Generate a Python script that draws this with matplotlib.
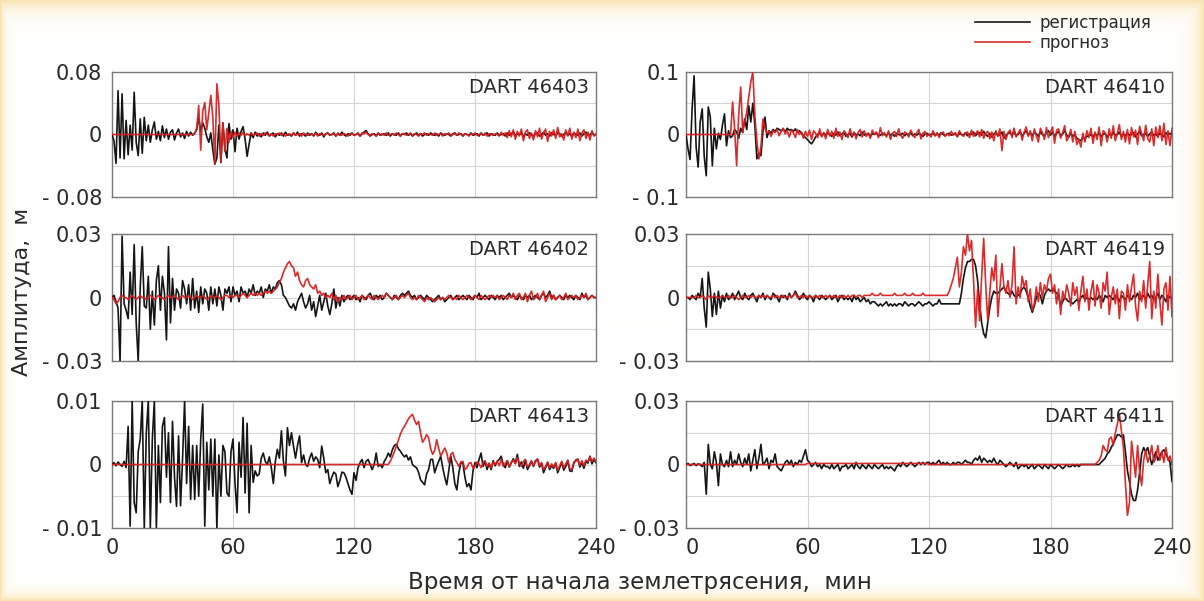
import numpy as np
import matplotlib
matplotlib.use("Agg")
import matplotlib.pyplot as plt

# ---------------- data (values in mm, sampled every minute 0..240) ----------------
minutes = list(range(0, 241))

obs_46403 = [0, -8, -37, 56, -30, 52, -31, 18, -26, 12,
             -20, 54, -10, -27, 20, -24, 22, -8, 12, -10,
             6, 16, -6, 4, -8, 11, -4, 7, -6, 3,
             6, -7, 2, 7, -3, 2, -5, 4, -2, 3,
             -1, 2, 6, 22, 4, 15, 8, -3, -10, 2,
             -20, -38, -30, 12, -36, 15, -18, -30, 14, -6,
             6, -22, 8, -6, 4, 10, -6, -28, -12, 2,
             -4, 3, -2, 1, -3, 2, -1, 3, -2, 0,
             2, -3, 1, -1, 2, -2, 3, -1, 0, -2,
             2, -1, 3, -2, 1, 0, -2, 2, -1, 1,
             -2, 3, 0, -1, 2, -3, 1, 2, -1, 0,
             2, -2, 1, -1, 3, 0, -2, 1, -1, 2,
             -1, 0, 2, -2, 1, 3, 5, 1, -2, 0,
             1, -2, 2, -1, 0, 1, -1, 2, -2, 1,
             0, -1, 2, -2, 1, 0, 2, -1, 1, -2,
             0, 2, -1, 1, -2, 0, 1, -1, 2, 0,
             -1, 1, -2, 2, 0, -1, 1, 0, -2, 1,
             2, -1, 0, 1, -2, 1, 0, -1, 2, -1,
             0, 1, -2, 2, -1, 0, 2, -2, 1, 0,
             -1, 2, -1, 0, 1, -2, 2, -1, 1, 3,
             -2, 1, 0, 2, -3, 1, -1, 2, 0, -2,
             1, 2, -2, 0, 3, -1, 1, -2, 2, 0,
             -1, 2, 1, -2, 0, 3, -1, 1, -2, 2,
             0, -1, 2, -2, 1, 3, -1, 0, 2, -1,
             0]
fc_46403 = [0, 0, 0, 0, 0, 0, 0, 0, 0, 0,
            0, 0, 0, 0, 0, 0, 0, 0, 0, 0,
            0, 0, 0, 0, 0, 0, 0, 0, 0, 0,
            0, 0, 0, 0, 0, 0, 0, 0, 0, 0,
            0, 1, 8, 37, -20, 30, 41, 6, 28, 50,
            22, -37, 65, 38, -35, 15, -22, 8, -10, 4,
            -4, 3, -2, 2, -1, 3, -2, 1, -1, 2,
            -1, 0, 2, -2, 1, -1, 2, 0, -1, 1,
            -2, 1, 0, 2, -1, 1, -2, 0, 1, -1,
            2, -1, 0, 1, -2, 2, 0, -1, 1, 0,
            -1, 2, -2, 1, 0, -1, 1, 2, -1, 0,
            1, -2, 2, 0, -1, 1, 0, -2, 1, 1,
            -1, 0, 1, -2, 2, 1, 3, 0, -1, 1,
            0, -2, 1, 0, 1, -1, 2, -1, 0, 1,
            -1, 2, 0, -2, 1, 1, -1, 0, 2, -1,
            1, 0, -2, 1, 0, 2, -1, 1, 0, -1,
            2, -1, 0, 1, -2, 1, 0, 2, -1, 0,
            1, -1, 2, 0, -1, 1, 0, -2, 1, 0,
            2, -1, 0, 1, -1, 2, -2, 1, 0, -1,
            1, 0, -2, 3, -1, 2, -4, 5, -3, 6,
            -6, 4, -2, 7, -8, 3, 6, -5, 2, -7,
            5, -3, 8, -6, 2, 7, -9, 4, -2, 6,
            -5, 9, -3, 1, -7, 6, -2, 8, -6, 3,
            -4, 7, -8, 2, 6, -5, 3, -7, 5, -2,
            1]

obs_46410 = [0, -23, -40, 40, 94, -20, -52, 20, 41, -35,
             -66, 44, 28, -50, 10, -23, 2, -8, 15, 33,
             -18, 6, -5, -2, 8, 4, -6, 10, 3, 25,
             8, 46, 20, 50, 15, -39, -30, -34, 5, 28,
             -5, 6, 2, 8, 5, 10, 8, 6, 9, 4,
             10, 7, 8, 5, 9, 3, 6, 2, -2, -5,
             -8, -12, -15, -10, -4, 0, 3, -2, 2, -1,
             3, 0, -3, 2, -1, 4, -2, 1, 3, -3,
             0, 2, -4, 3, -1, 1, -2, 4, -1, 0,
             2, -3, 1, 0, 3, -2, -1, 2, 0, -2,
             3, -1, 1, -3, 2, 0, -1, 2, -2, 1,
             0, 3, -2, 1, -1, 2, 0, -3, 1, 2,
             -1, 0, 2, -2, 1, -1, 3, 0, -2, 1,
             2, -1, 0, 1, -3, 2, 0, -1, 3, -2,
             1, 0, 4, -2, 2, 3, -1, 5, 0, -3,
             2, -4, 1, 3, -2, 0, 4, -6, -2, 2,
             3, -1, 5, -2, 0, 4, -3, 2, 6, -1,
             3, -2, 4, 1, -3, 5, 0, -2, 3, 6,
             -1, 4, -3, 2, 5, -2, 1, 6, -1, -4,
             2, -3, 0, -6, -8, -10, -4, -7, -3, -2,
             0, -4, 1, -2, 3, -3, 0, 2, -5, 1,
             -2, 3, -1, 0, 4, -3, 1, -2, 2, -1,
             0, 3, -4, 1, 5, -2, 0, 2, -3, 1,
             4, -2, 1, -3, 2, 0, -4, 3, -1, 2,
             0]
fc_46410 = [0, 0, 0, 0, 0, 0, 0, 0, 0, 0,
            0, 0, 0, 0, 0, 0, 0, 0, 0, 0,
            0, 0, 0, 52, 10, -50, 30, 76, 5, 20,
            36, 60, 84, 100, 30, -10, -39, -20, 25, 10,
            2, 5, -3, 6, 3, 8, -2, 5, 10, 1,
            6, -4, 7, 3, -5, 8, 0, 4, -6, 5,
            -3, 7, -8, 6, 2, -5, 9, -4, 3, -7,
            8, -2, 5, -6, 10, -3, 4, -8, 6, 2,
            -5, 9, -2, 4, -7, 3, 8, -4, 6, -3,
            2, -6, 7, 0, 4, -5, 11, -2, 3, -4,
            6, -8, 2, 5, -3, 9, -1, -6, 4, 2,
            -4, 7, 0, -5, 3, 8, -7, 2, 5, -3,
            1, -4, 6, -2, 3, -5, 2, 4, -3, 1,
            -2, 5, -1, 3, -4, 6, 0, -3, 2, 4,
            -5, 7, -3, 1, 6, -4, 8, -6, 2, 5,
            -7, 4, -10, 6, -3, 9, -26, 5, -8, 3,
            7, -5, 10, -4, 2, 8, -9, 4, 12, -3,
            6, -10, 9, -2, -12, 10, 3, -8, 11, -5,
            4, 12, -14, 7, 9, -6, 3, 14, -10, -4,
            8, -12, 5, -16, -8, -20, 2, -12, 6, -5,
            10, -14, 4, -8, 12, -18, 6, 3, -12, 9,
            -6, 14, -10, 2, 16, -8, 5, -12, 8, -15,
            11, -4, 7, -16, 13, 2, -10, 15, -6, -12,
            9, -18, 12, -5, 14, -10, 18, -16, 6, -18,
            10]

obs_46402 = [0, 1, -2, -5, -30, 29, -3, -6, -10, 12,
             -8, 25, -12, -30, 5, 24, -4, -5, 10, -15,
             3, -13, 8, 15, -6, 10, 2, -20, 24, -12,
             9, -6, 4, 2, -5, 8, 4, -3, 6, -6,
             9, -5, 3, -7, 5, -3, 4, 2, -6, 5,
             -3, 4, -4, 5, 1, -6, 4, 2, 5, -2,
             5, 1, 3, -2, 5, 2, 3, 0, 4, 2,
             6, 1, 3, 2, 5, 0, 4, 3, 6, 2,
             5, 4, 7, 8, 6, 1, 0, -2, -4, -5,
             -3, -6, -2, 0, 2, -2, -5, -3, 1, -6,
             -2, -9, -4, 1, -6, -2, 2, -4, -8, -3,
             4, -5, 0, -4, 1, -2, 0, 1, -1, 0,
             1, -1, 0, -2, 1, 0, -1, 1, 2, 0,
             -1, 1, 0, 1, -1, 0, 2, 1, 0, -1,
             1, 0, -1, 1, 2, 1, 2, 3, 1, 0,
             1, -1, 0, 1, 0, -1, 1, 0, -1, -2,
             -1, 0, 1, -1, 0, -2, -1, 0, 1, -1,
             0, 1, -1, 0, 1, 0, -1, 1, 0, -1,
             1, 0, 2, -1, 0, 1, 0, -1, 1, 0,
             -1, 1, 0, 1, -1, 0, 1, 2, 0, 1,
             0, -1, 1, 0, -1, 1, 0, 1, -1, 0,
             1, 0, -1, 1, 2, 0, 1, 3, 0, 1,
             -1, 0, 1, 0, -1, 1, 0, 1, 0, -1,
             1, 0, -1, 2, 0, 1, -1, 0, 1, 0,
             0]
fc_46402 = [0, -1, -3, -2, 0, 1, 0, 0, -1, 0,
            1, 0, -1, 0, 1, 0, 0, -1, 0, 1,
            0, -1, 0, 1, 0, 0, -1, 0, 1, 0,
            0, 1, 0, -1, 0, 1, 0, 0, 1, 0,
            -1, 0, 1, 0, 0, 1, 0, -1, 0, 1,
            0, 0, 1, 0, -1, 0, 1, 1, 0, 1,
            0, 1, 1, 0, 1, 2, 1, 0, 1, 2,
            1, 2, 1, 2, 1, 2, 3, 2, 3, 2,
            3, 4, 5, 7, 9, 12, 14, 16, 17, 15,
            14, 10, 12, 8, 6, 5, 8, 9, 6, 5,
            4, 6, 2, 3, 1, 2, 0, 1, 0, 2,
            -1, 1, -2, 0, -1, 1, -1, 0, 1, -1,
            0, 1, -1, 0, 1, -1, 0, 1, 0, -1,
            1, 0, -1, 0, 1, 0, 2, 1, 0, -1,
            0, 1, -1, 0, 1, 0, 1, 2, 0, -1,
            0, -1, 1, 0, -1, -2, 0, -1, 0, -1,
            -2, -1, 0, -1, 0, -1, 0, 1, 0, -1,
            0, -1, 1, 0, -1, 0, 1, 0, -1, 0,
            1, 0, -1, 1, 0, -1, 0, 1, 0, 1,
            0, 1, -1, 0, 1, 0, -1, 1, 0, 2,
            -1, 1, 2, -1, 0, 2, -2, 1, 3, -1,
            0, 2, -1, 1, 3, -2, 0, 2, -1, 1,
            -1, 0, 1, -1, 0, 2, -1, 0, 1, 0,
            1, -1, 0, 1, 0, 2, -1, 0, 1, 0,
            0]

obs_46419 = [0, 0, -1, 1, 0, -1, 2, 0, 9, -5,
             -14, 12, 4, -9, 2, -8, 3, -5, 1, -2,
             2, -1, 0, 2, -1, 1, 3, 0, -1, 2,
             0, -1, 1, 2, 0, -2, 1, 0, 2, -1,
             1, 0, -1, 2, 1, 0, -2, 1, 0, 1,
             -1, 2, 0, 1, 3, 1, -1, 0, 2, 0,
             -1, 1, 0, -2, 1, 0, -1, 1, 0, -1,
             0, 1, -1, 0, 1, -2, 0, 1, -1, 0,
             -1, 0, -2, 1, -1, 0, -2, -1, 0, -2,
             -1, -3, -2, -2, -3, -4, -3, -4, -3, -2,
             -4, -3, -4, -3, -4, -3, -3, -4, -2, -3,
             -4, -3, -3, -4, -3, -2, -3, -4, -3, -3,
             -2, -3, -4, -3, -3, -1, -3, -3, -3, -3,
             -3, -3, -3, -3, -3, -3, 2, 9, 14, 17,
             17, 18, 18, 15, 8, -3, -12, -17, -19, -12,
             -5, 0, 3, 2, 2, 3, 4, 5, 3, 2,
             1, 3, 1, 0, 1, 2, 4, 5, 3, 0,
             -4, -7, -4, 0, 2, 1, -3, 1, 3, 4,
             3, 4, 3, 2, 1, -4, -2, 0, -1, -2,
             -2, -3, -2, -1, -2, 0, 1, -1, 0, -1,
             0, -1, 0, -1, 1, 0, -2, 1, 0, 1,
             0, -1, 1, 0, -2, 1, 0, -1, 1, 0,
             -1, 1, 0, 2, -1, 0, 1, -1, 2, 0,
             1, -1, 0, 2, -1, 1, 0, -2, 1, 0,
             0]
fc_46419 = [0, 0, 0, 0, 0, 1, 0, 0, 1, 0,
            -1, 1, 0, 0, 1, 0, 0, 0, 1, 0,
            0, 1, 0, 0, 1, 0, -1, 0, 1, 0,
            0, 1, 0, 1, 0, 0, 1, 0, 1, 0,
            1, 0, 0, 1, 0, 1, 0, 0, 1, 0,
            0, 1, 0, 1, 2, 0, 0, 1, 0, 1,
            0, 1, 0, 0, 1, 0, 1, 0, 0, 1,
            0, 1, 0, 1, 0, 0, 1, 0, 1, 0,
            1, 0, 1, 1, 0, 1, 1, 0, 1, 1,
            1, 1, 2, 1, 1, 1, 2, 1, 1, 1,
            1, 1, 1, 2, 1, 1, 1, 1, 2, 1,
            1, 1, 2, 1, 1, 1, 1, 2, 1, 1,
            1, 1, 1, 1, 1, 1, 1, 1, 1, 1,
            3, 6, 9, 14, 19, 5, 12, 24, 20, 30,
            22, 27, 8, -14, 4, -11, 10, 28, 6, -11,
            2, 14, 8, 20, -9, 4, 16, 5, 2, 8,
            0, 6, 24, -3, 5, 0, 10, 5, 8, -2,
            4, -6, -3, 5, -2, 7, 0, 6, 3, 9,
            11, 2, 6, -3, 4, -8, 3, -1, 6, 2,
            -4, 7, 1, 5, -6, 3, 10, -2, 4, -6,
            3, 8, -4, 6, 2, -5, 7, 3, 12, -8,
            0, 5, -3, 4, -10, 3, 2, -6, 6, -2,
            5, 11, -4, -11, 3, -2, 8, -5, 6, 17,
            -10, 3, -5, 11, -2, -13, 4, 7, -6, 10,
            -9]

obs_46413 = [0, 0.3, -0.2, 0.4, 0, -0.3, 0.5, -0.5, 6, -9.7,
             10, -6, -7.6, 2, 4, 10, -10, 5, 10, -10,
             4, 10, -10, 3, -6, 6, 7.4, -2, 5, -6,
             6.8, -2, -6.6, 4.5, -6.5, 1, 10, -3, 6, -5.5,
             3, -5.5, 3, -5, 4, 9.5, -9.7, 3.5, -4, 4,
             -5, 4, -10, 1.5, -5, 3, 2, -4.5, -5, 2,
             4, -3, -7.6, 3.5, -2, 7.4, -4.5, 6.5, -7.6, 3,
             -2.8, -1, -1.8, -1.5, 1, 1.8, 0.5, 0, 1.2, -0.5,
             -3, 0.5, 2.4, 1, 5.3, 0.5, -1.8, 5.8, 3, 5,
             2.9, 1, 3, 4.5, 0.3, 1.5, 0, -0.3, 1, 1.8,
             0.5, 1.2, 0.8, -0.5, 2.9, 1, -1.3, -0.8, -3, -2,
             -1.2, -1.5, -3.5, -2.5, -1.2, -1.3, -2, -3, -4, -4.7,
             -1.3, -2.5, -0.5, 0.3, 0.8, -0.5, 0.5, 0.8, 0, -0.8,
             0, 1.8, -0.3, 0, -0.5, 0.5, 1, 1.8, 1.2, 2.3,
             3, 3.2, 2.5, 2.1, 1.6, 1.2, 1.5, 0.7, 1.2, 0,
             -0.3, -0.5, -1.2, -2.4, -2.8, -3.2, -1.5, -0.8, 0.8, 0.8,
             -1.3, -0.3, 0.5, 1.3, -0.5, -2, -3.2, -1, 1.3, -0.5,
             -3, -4, -1.3, 0.3, 0.2, -2, -3.5, -3, -4, -1,
             0.3, -0.5, 0.8, 1.8, -0.3, 0.5, -0.8, 0.2, -0.8, 0.6,
             -0.2, 0.5, 0.8, 1.3, 0, -0.5, 0.6, -0.4, 0.3, 0.9,
             0.2, 1.6, -0.3, 0.4, -0.6, 0.7, -0.8, -0.2, 0.5, -0.3,
             0.6, 0.8, -0.4, 0.2, -1.3, -0.5, 0.3, -0.8, -0.2, -0.6,
             0.2, -1.3, -0.5, 0.3, -0.9, -0.3, 0.6, -1, -1.1, 0.2,
             0.7, 0.8, -0.4, 0.3, -0.6, 0.5, 0.2, 1.3, 0.1, 0.8,
             0.3]
fc_46413 = [0, 0, 0, 0, 0, 0, 0, 0, 0, 0,
            0, 0, 0, 0, 0, 0, 0, 0, 0, 0,
            0, 0, 0, 0, 0, 0, 0, 0, 0, 0,
            0, 0, 0, 0, 0, 0, 0, 0, 0, 0,
            0, 0, 0, 0, 0, 0, 0, 0, 0, 0,
            0, 0, 0, 0, 0, 0, 0, 0, 0, 0,
            0, 0, 0, 0, 0, 0, 0, 0, 0, 0,
            0, 0, 0, 0, 0, 0, 0, 0, 0, 0,
            0, 0, 0, 0, 0, 0, 0, 0, 0, 0,
            0, 0, 0, 0, 0, 0, 0, 0, 0, 0,
            0, 0, 0, 0, 0, 0, 0, 0, 0, 0,
            0, 0, 0, 0, 0, 0, 0, 0, 0, 0,
            0, 0, 0, 0, 0, 0, 0, 0, 0, 0,
            0, 0, 0, 0, 0, 0, 0, 0, 0.5, 1.2,
            2, 2.9, 3.8, 4.8, 5.5, 6, 6.6, 7.2, 7.6, 7.9,
            7, 6.3, 6.8, 5, 3.5, 4, 4.7, 4.2, 2.5, 1.6,
            2.2, 3.9, 2.5, 1.3, 2, 2.6, 1.8, 0.3, 1.6, 1.9,
            0.8, 0.3, -0.3, 0.4, 0.5, -0.8, -0.5, 0.2, 0.3, -0.6,
            -0.2, 0.4, 0.1, -0.5, 0.3, 0.6, -0.3, 0.2, -0.5, 0.4,
            0, 0.5, -0.2, 0.8, -0.3, 0.2, 0.6, -0.4, 0.3, 0.7,
            0.1, 1.1, 0.2, -0.3, 0.5, 0.8, -0.4, 0, 0.6, -0.2,
            0.4, 0.9, -0.2, 0.3, -0.8, -0.3, 0.4, -0.5, 0.1, -0.4,
            0.3, -0.9, -0.2, 0.5, -0.5, 0.1, 0.7, -0.6, -0.8, 0.4,
            0.5, 0.9, -0.1, 0.6, -0.2, 0.7, 0.4, 1.2, 0.5, 1.0,
            0.5]

obs_46411 = [0, 0.5, -0.5, 0, 0.5, -0.5, 0.3, 0, -1, 1,
             -14, 9.5, 0, -2, 6, 1, -10, 5, 0, -1,
             2, -1, 6, -1, 2, 0, 5, 1, -1, 3,
             0, 5, -3, 2, 7, -2, 3, 9.5, 0, 1,
             3, -2, 2, 1, 5, -1, -2, -3, -1, 1,
             2, 0, 2, -1, 1, 0, 2, 1, 4, 7,
             2, 1, -1, 0, 1, -1, 0, -2, 0, -1,
             -1, -2, 0, -2, -1, 0, -3, -1, -1, 0,
             -2, -1, 0, -2, 1, -1, -2, 0, -1, -2,
             0, -1, -2, 0, -1, -2, -1, 0, -2, -1,
             -2, -1, -2, -3, -1, 0, -1, 1, 0, -1,
             0, 1, 0, -1, 0, 1, 0, 1, 0, 1,
             1, 0, 1, 0, 1, 2, 0, 1, 0, 1,
             0, 0, 1, 0, 1, 1, 0, 1, 2, 1,
             1, 0, 2, 3, 2, 4, 1, 3, 2, 1,
             2, 1, 3, 1, 0, 2, 1, 0, -1, 0,
             1, 0, -1, 1, -2, -1, 0, -1, 0, -2,
             -1, 0, -2, -1, 0, -1, -2, 0, -1, -2,
             0, -1, -2, -1, 0, -1, -2, -1, 0, -1,
             -1, 0, -1, 0, -1, 0, 0, 0, 0, 0,
             0, 0, 0, 0, 0, 1, 2, 3, 5, 6,
             8, 10, 12, 14, 14, 13, 14, 6, -3, -8,
             -14, -17, -17, -12, -4, 5, 8, 6, 8, 4,
             0, 3, 6, 2, 4, 6, 7, 5, 3, 1,
             -8]
fc_46411 = [0, 0, 0, 0, 0, 0, 0, 0, 0, 0,
            0, 0, 0, 0, 0, 0, 0, 0, 0, 0,
            0, 0, 0, 0, 0, 0, 0, 0, 0, 0,
            0, 0, 0, 0, 0, 0, 0, 0, 0, 0,
            0, 0, 0, 0, 0, 0, 0, 0, 0, 0,
            0, 0, 0, 0, 0, 0, 0, 0, 0, 0,
            0.5, 0.5, 0.5, 0.5, 0.5, 0.5, 0.5, 0.5, 0.5, 0.5,
            0.5, 0.5, 0.5, 0.5, 0.5, 0.5, 0.5, 0.5, 0.5, 0.5,
            0.5, 0.5, 0.5, 0.5, 0.5, 0.5, 0.5, 0.5, 0.5, 0.5,
            0.5, 0.5, 0.5, 0.5, 0.5, 0.5, 0.5, 0.5, 0.5, 0.5,
            0.5, 0.5, 0.5, 0.5, 0.5, 0.5, 0.5, 0.5, 0.5, 0.5,
            0.5, 0.5, 0.5, 0.5, 0.5, 0.5, 0.5, 0.5, 0.5, 0.5,
            0, 0, 0, 0, 0, 0, 0, 0, 0, 0,
            0, 0, 0, 0, 0, 0, 0, 0, 0, 0,
            0, 0, 0, 0, 0, 0, 0, 0, 0, 0,
            0, 0, 0, 0, 0, 0, 0, 0, 0, 0,
            0, 0, 0, 0, 0, 0, 0, 0, 0, 0,
            0, 0, 0, 0, 0, 0, 0, 0, 0, 0,
            0, 0, 0, 0, 0, 0, 0, 0, 0, 0,
            0, 0, 0, 0, 0, 0, 0, 0, 0, 0,
            0, 0, 0, 1, 2, 4, 9, 7, 6, 12,
            13, 9, 15, 19, 24, 16, 8, -9, -24, -18,
            11, 3, -6, 9, -3, -10, 2, 7, 1, 4,
            9, 1, 3, 9, 2, 6, 1, 8, 2, 4,
            0]

stations = ["DART 46403", "DART 46410", "DART 46402", "DART 46419", "DART 46413", "DART 46411"]
y_limits_m = [0.08, 0.1, 0.03, 0.03, 0.01, 0.03]
y_tick_text = [["- 0.08", "0", "0.08"], ["- 0.1", "0", "0.1"],
               ["- 0.03", "0", "0.03"], ["- 0.03", "0", "0.03"],
               ["- 0.01", "0", "0.01"], ["- 0.03", "0", "0.03"]]
observed = [obs_46403, obs_46410, obs_46402, obs_46419, obs_46413, obs_46411]
forecast = [fc_46403, fc_46410, fc_46402, fc_46419, fc_46413, fc_46411]
x_ticks = [0, 60, 120, 180, 240]
legend_labels = ["регистрация", "прогноз"]
xlabel_text = "Время от начала землетрясения,  мин"
ylabel_text = "Амплитуда,  м"

# ---------------- figure ----------------
W, H = 1204, 601
fig = plt.figure(figsize=(W / 100, H / 100), dpi=100)
plt.rcParams['font.family'] = ['DejaVu Sans']

# warm glow around the picture border
bg = fig.add_axes([0, 0, 1, 1], zorder=-10)
yy, xx = np.mgrid[0:H, 0:W]
glow = np.maximum.reduce([np.exp(-yy / 9.0), np.exp(-(H - 1 - yy) / 6.0),
                          np.exp(-xx / 4.0), np.exp(-(W - 1 - xx) / 8.0)])
tint = np.array([0.98, 0.89, 0.68])
img = 1 - glow[..., None] * (1 - tint)
bg.imshow(img, aspect='auto', interpolation='bilinear')
bg.axis('off')

col_x = [(112, 484), (686, 486)]
row_y = [(72, 197), (234, 361), (401, 528)]

black_c = '#151515'
red_c = '#d82020'
txt_c = '#2a2a2a'
t = np.array(minutes)
handles = None
for i in range(6):
    r, c = divmod(i, 2)
    x0, w = col_x[c]
    top, bot = row_y[r]
    ax = fig.add_axes([x0 / W, 1 - bot / H, w / W, (bot - top) / H])
    lim = y_limits_m[i]
    lo = ax.plot(t, np.array(observed[i]) / 1000.0, color=black_c, lw=1.2, zorder=3)[0]
    lf = ax.plot(t, np.array(forecast[i]) / 1000.0, color=red_c, lw=1.2, zorder=4, alpha=0.95)[0]
    if handles is None:
        handles = [lo, lf]
    ax.set_xlim(0, 240)
    ax.set_ylim(-lim, lim)
    ax.set_yticks([-lim, -lim / 2, 0, lim / 2, lim])
    lbl = y_tick_text[i]
    ax.set_yticklabels([lbl[0], "", lbl[1], "", lbl[2]])
    ax.set_xticks(x_ticks)
    if r == 2:
        ax.set_xticklabels([str(v) for v in x_ticks])
        if c == 1:
            ax.get_xticklabels()[0].set_horizontalalignment('left')
    else:
        ax.set_xticklabels([])
    ax.tick_params(axis='both', length=0, labelsize=15, colors=txt_c)
    ax.tick_params(axis='y', pad=7 if c == 0 else 4.5)
    ax.tick_params(axis='x', pad=7)
    ax.grid(True, color='#d4d4d4', lw=0.8)
    ax.set_axisbelow(True)
    for s in ax.spines.values():
        s.set_color('#7a7a7a')
        s.set_linewidth(1.0)
    ax.text(0.985, 0.875, stations[i], transform=ax.transAxes, ha='right', va='center',
            fontsize=14, color=txt_c, zorder=6)

leg = fig.legend(handles, legend_labels, loc='upper left', bbox_to_anchor=(975 / W, 1 - 14 / H),
                 frameon=False, fontsize=12, handlelength=3.3, handletextpad=0.6,
                 labelspacing=0.1, borderpad=0, borderaxespad=0)
for tx in leg.get_texts():
    tx.set_color(txt_c)

fig.text(640 / W, 1 - 583 / H, xlabel_text, ha='center', va='center', fontsize=16.5, color=txt_c)
fig.text(22 / W, 1 - 292 / H, ylabel_text, ha='center', va='center', rotation=90,
         fontsize=16, color=txt_c)

fig.savefig("out.png", dpi=100)
